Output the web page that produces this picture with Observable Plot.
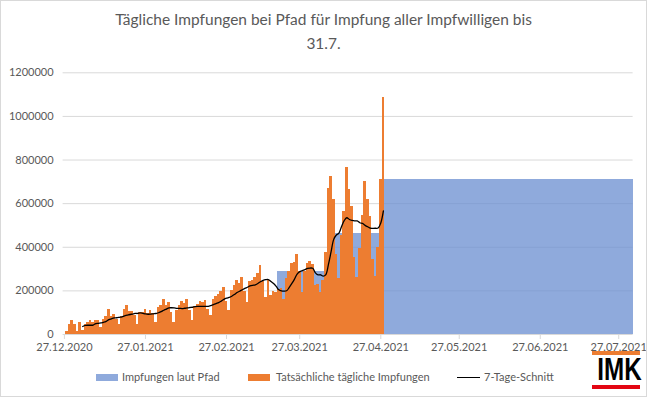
<!DOCTYPE html>
<html><head><meta charset="utf-8">
<script src="https://cdn.jsdelivr.net/npm/d3@7"></script>
<script src="https://cdn.jsdelivr.net/npm/@observablehq/plot@0.6"></script>
<style>
html,body{margin:0;padding:0;background:#fff;}
#wrap{position:relative;width:647px;height:397px;overflow:hidden;font-family:Lato,sans-serif;color:#595959;background:#fff;}
#frame{position:absolute;left:0;top:0;width:645px;height:395px;border:1px solid #d9d9d9;pointer-events:none;}
.t{position:absolute;left:0;width:647px;text-align:center;white-space:nowrap;font-size:18px;line-height:1.2;}
#chart{position:absolute;left:0;top:62px;}
.lt{position:absolute;top:370px;font-size:11px;line-height:13px;white-space:nowrap;}
.sw{position:absolute;top:374px;width:22px;height:7px;}
#imk{position:absolute;left:592px;top:351px;width:48px;}
</style></head>
<body>
<div id="wrap">
  <div class="t" id="t1" style="top:10px">Tägliche Impfungen bei Pfad für Impfung aller Impfwilligen bis</div>
  <div class="t" id="t2" style="top:34px">31.7.</div>
  <div id="chart"></div>
  <div class="sw" style="left:96px;background:#6A8ED0;opacity:0.75"></div>
  <div class="lt" style="left:122px">Impfungen laut Pfad</div>
  <div class="sw" style="left:248px;background:#ED7D31"></div>
  <div class="lt" style="left:276px">Tatsächliche tägliche Impfungen</div>
  <div style="position:absolute;left:457px;top:377px;width:23px;height:1.3px;background:#000"></div>
  <div class="lt" style="left:484px">7-Tage-Schnitt</div>
  <div id="imk">
    <div style="height:4px;background:#ED7D31"></div>
    <div style="height:30px;font:bold 31px 'Liberation Sans',Arial,sans-serif;color:#000;line-height:30px;text-align:center;transform:scaleX(0.78);transform-origin:center;">IMK</div>
    <div style="height:4px;background:#E30613"></div>
  </div>
  <div id="frame"></div>
</div>
<script>
// ---- data ----
const orangeStart = "2020-12-28"; // first day with reported vaccinations
const orangeValues = [
  14000,48000,62000,48000,14000,53000,19000,48000,53000,62000,
  53000,62000,62000,34000,67000,82000,115000,82000,91000,67000,
  48000,82000,115000,134000,105000,105000,86000,48000,100000,100000,
  115000,96000,110000,96000,57000,124000,134000,162000,134000,148000,
  100000,53000,110000,134000,153000,144000,162000,110000,62000,130000,
  139000,153000,148000,158000,115000,86000,162000,172000,182000,196000,
  215000,153000,110000,201000,224000,249000,236000,262000,198000,146000,
  243000,246000,262000,281000,318000,244000,168000,246000,180000,198000,
  192000,205000,212000,159000,258000,288000,324000,330000,368000,290000,
  194000,291000,324000,336000,321000,223000,227000,194000,248000,374000,
  670000,723000,617000,367000,258000,455000,564000,764000,667000,586000,
  351000,261000,394000,545000,700000,621000,540000,346000,264000,401000,
  709000,1087000
];
const pathFrom = ["2021-03-19","2021-04-09","2021-04-29"];
const pathTo = ["2021-04-08","2021-04-28","2021-08-01"];
const pathValues = [289000,464000,713000];
const tickDates = ["2020-12-27","2021-01-27","2021-02-27","2021-03-27","2021-04-27","2021-05-27","2021-06-27","2021-07-27"];
const tickLabels = ["27.12.2020","27.01.2021","27.02.2021","27.03.2021","27.04.2021","27.05.2021","27.06.2021","27.07.2021"];
const yTicks = [0,200000,400000,600000,800000,1000000,1200000];

// ---- build ----
const H = 12*3600*1000;
const parse = s => new Date(s + "T00:00:00Z");
const orangeRows = orangeValues.map((v,i)=>({date: d3.utcDay.offset(parse(orangeStart), i), value: v}));
const pathRows = pathValues.map((v,i)=>({from: parse(pathFrom[i]), to: parse(pathTo[i]), value: v}));
const tickKey = d => d.toISOString().slice(0,10);

const plot = Plot.plot({
  width:647, height:300,
  marginLeft:62.6, marginRight:14.4, marginTop:10.3, marginBottom:28,
  style:{fontFamily:"Lato, sans-serif", fontSize:"11px", color:"#595959", background:"transparent", overflow:"visible"},
  x:{type:"utc", domain:[new Date(+parse("2020-12-27")-H), new Date(+parse("2021-08-01")+H)], axis:null},
  y:{domain:[0,1200000], axis:null},
  marks:[
    Plot.ruleY(yTicks.slice(1), {stroke:"#d9d9d9", strokeWidth:1}),
    Plot.rectY(pathRows, {x1:d=>new Date(+d.from-H), x2:d=>new Date(+d.to+H), y:"value", fill:"#6A8ED0", fillOpacity:0.75, shapeRendering:"crispEdges"}),
    Plot.rectY(orangeRows, {x1:d=>new Date(+d.date-H), x2:d=>new Date(+d.date+H), y:"value", fill:"#ED7D31", shapeRendering:"crispEdges"}),
    Plot.lineY(orangeRows, Plot.windowY({k:7, anchor:"end", strict:true}, {x:"date", y:"value", stroke:"#000", strokeWidth:1.3, curve:"catmull-rom"})),
    Plot.ruleY([0], {stroke:"#d9d9d9"}),
    Plot.axisX(tickDates.map(parse), {tickFormat:d=>tickLabels[tickDates.indexOf(tickKey(d))], tickSize:5, tickPadding:4, stroke:"#d9d9d9", fill:"#595959", label:null}),
    Plot.axisY(yTicks, {tickSize:0, tickPadding:9.5, tickFormat:d3.format("d"), fill:"#595959", label:null})
  ]
});
document.getElementById("chart").appendChild(plot);

// fit title width to the reference (417px for first line)
const t1 = document.getElementById("t1"), t2 = document.getElementById("t2");
const r = document.createRange(); r.selectNodeContents(t1);
const w = r.getBoundingClientRect().width;
const fs = 18 * 417 / w;
t1.style.fontSize = fs + "px"; t2.style.fontSize = fs + "px";
</script>
</body></html>
